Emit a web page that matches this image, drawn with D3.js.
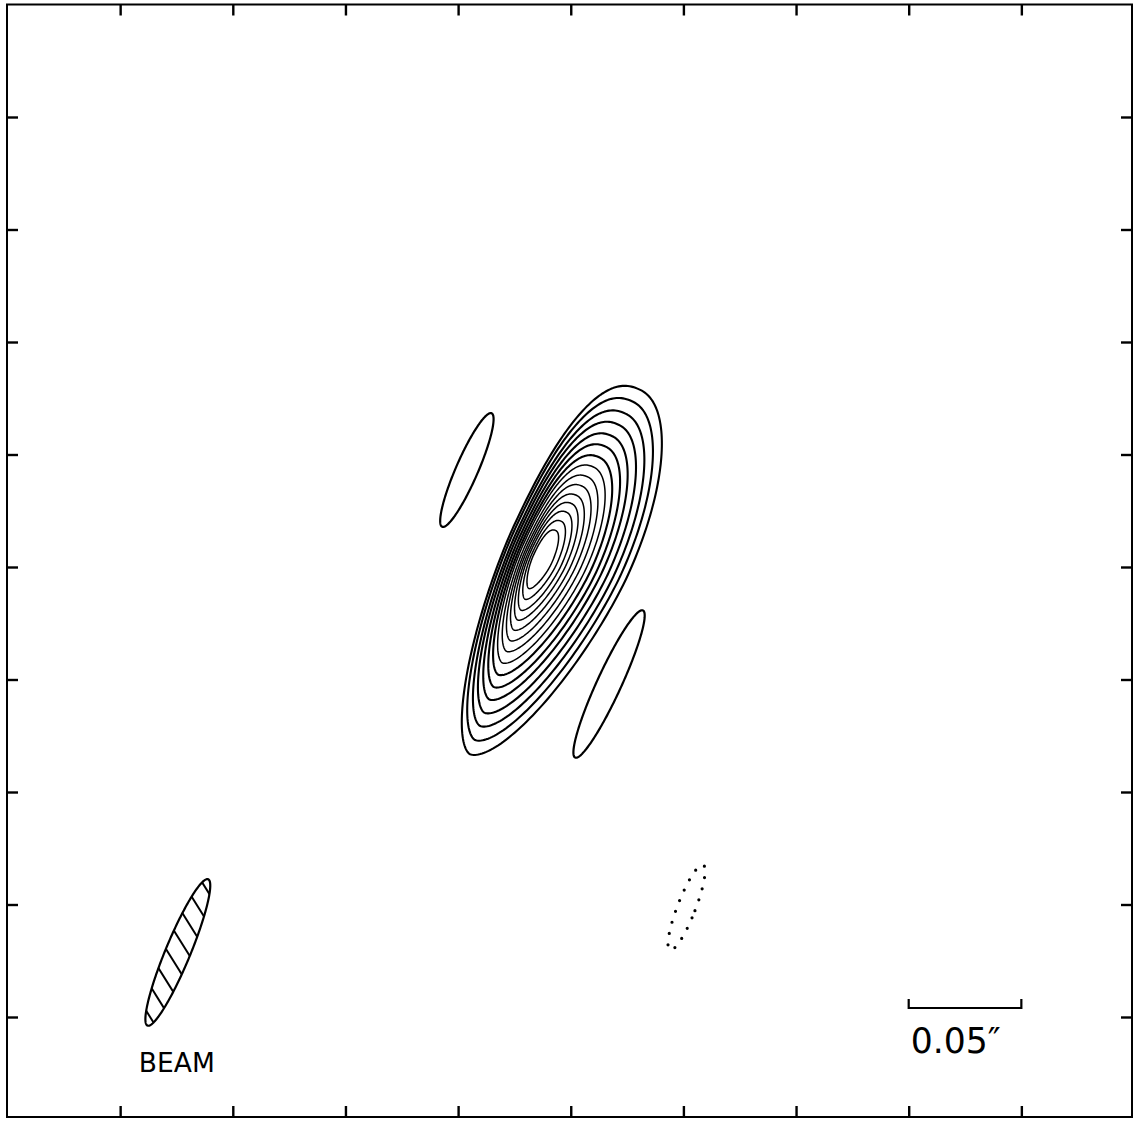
<!DOCTYPE html>
<html>
<head>
<meta charset="utf-8">
<script src="https://cdn.jsdelivr.net/npm/d3@7"></script>
<style>
  html, body { margin: 0; padding: 0; background: #fff; }
  svg { display: block; }
</style>
</head>
<body>
<script>
// ---- Map data -------------------------------------------------------------
// Offsets are in milliarcseconds (mas) from the map centre, +y is up.

// Axis tick positions (arcsec)
const tickValues = [-0.2, -0.15, -0.1, -0.05, 0, 0.05, 0.1, 0.15, 0.2];

// Main source: contour levels (% of peak). Each contour is described by its
// centre and its extent along the source axis (top / bottom) and across it
// (left / right).
const sourceAxisAngle = 25; // degrees, top of the axis tilted toward +x
const contourLevels  = [5, 10, 15, 20, 25, 30, 35, 40, 45, 50, 55, 60, 65, 70, 75];
const contourCenterX = [-2.4, -3.3, -4.1, -5.0, -5.8, -6.5, -7.3, -8.0, -8.7, -9.4, -10.1, -10.7, -11.3, -11.9, -12.6];
const contourCenterY = [7.4, 7.1, 6.7, 6.4, 6.1, 5.7, 5.4, 5.2, 4.9, 4.6, 4.3, 4.1, 3.8, 3.6, 3.3];
const contourTop     = [78.7, 73.2, 67.7, 62.6, 57.4, 52.6, 47.7, 43.2, 38.7, 34.5, 30.3, 26.5, 22.6, 18.4, 14.2];
const contourBottom  = [100.0, 92.7, 85.4, 78.6, 71.7, 65.2, 58.8, 52.8, 46.8, 41.2, 35.7, 30.5, 25.4, 19.8, 14.2];
const contourRight   = [29.8, 27.6, 25.5, 23.5, 21.4, 19.5, 17.6, 15.9, 14.1, 12.4, 10.8, 9.2, 7.7, 6.1, 4.4];
const contourLeft    = [25.3, 23.6, 21.8, 20.1, 18.4, 16.9, 15.3, 13.9, 12.4, 11.0, 9.7, 8.4, 7.2, 5.8, 4.4];
// flank shapes: fuller upper-left, tapering tail toward the bottom
const upperLeftExponent = 2.5, upperRightExponent = 2, lowerExponent = 1.7;

// Isolated features (sidelobes): +5 % solid, -5 % dotted
const lobeLevel = [5, 5, -5];
const lobeX     = [-46.1, 17.0, 51.4];
const lobeY     = [43.1, -52.0, -151.3];
const lobeMajor = [27.5, 36.0, 20.3];
const lobeMinor = [4.9, 5.4, 4.0];
const lobeAngle = [23.5, 24.7, 21.2];

// Restoring beam
const beamCenter = [-174.4, -171.3];
const beamMajor = 35.2;
const beamMinor = 5.5;
const beamAngle = 22.5;
const beamHatchOffsets = [-31.5, -22.5, -13.5, -4.5, 4.5, 13.5, 22.5, 31.5];
const beamHatchAngle = 58; // degrees below horizontal

// Scale bar (arcsec)
const scaleBarFrom = 0.15, scaleBarTo = 0.2, scaleBarY = -0.196;
const scaleBarLabel = "0.05\u2033";

// ---- Layout ---------------------------------------------------------------
const W = 1133, H = 1121;
const frame = { left: 7, right: 1132, top: 4.5, bottom: 1117 };

const x = d3.scaleLinear().domain([-0.25, 0.25]).range([7.5, 1134]);
const y = d3.scaleLinear().domain([-0.2, 0.2]).range([1017, 117]);

const svg = d3.select("body").append("svg")
  .attr("width", W).attr("height", H)
  .attr("viewBox", `0 0 ${W} ${H}`);

svg.append("rect").attr("width", W).attr("height", H).attr("fill", "#fff");

// mas offsets -> screen
const toScreen = (mx, my) => [x(mx / 1000), y(my / 1000)];
const rad = d => d * Math.PI / 180;

// point in a rotated frame: u along the tilted axis, v across it
function rotated(cx, cy, u, v, angleDeg) {
  const a = rad(angleDeg);
  return toScreen(cx + u * Math.sin(a) + v * Math.cos(a),
                  cy + u * Math.cos(a) - v * Math.sin(a));
}

const line = d3.line().curve(d3.curveLinearClosed);
const N = 240;

// ---- Frame & ticks ---------------------------------------------------------
svg.append("rect")
  .attr("x", frame.left).attr("y", frame.top)
  .attr("width", frame.right - frame.left)
  .attr("height", frame.bottom - frame.top)
  .attr("fill", "none").attr("stroke", "#000").attr("stroke-width", 2);

const tickLen = 11;
function styleAxis(g) {
  g.select(".domain").remove();
  g.selectAll(".tick line").attr("stroke", "#000").attr("stroke-width", 2.4);
  g.selectAll(".tick text").remove();
}
svg.append("g").attr("transform", `translate(0,${frame.top})`)
  .call(d3.axisTop(x).tickValues(tickValues).tickSize(-tickLen).tickFormat(""))
  .call(styleAxis);
svg.append("g").attr("transform", `translate(0,${frame.bottom})`)
  .call(d3.axisBottom(x).tickValues(tickValues).tickSize(-tickLen).tickFormat(""))
  .call(styleAxis);
svg.append("g").attr("transform", `translate(${frame.left},0)`)
  .call(d3.axisLeft(y).tickValues(tickValues).tickSize(-tickLen).tickFormat(""))
  .call(styleAxis);
svg.append("g").attr("transform", `translate(${frame.right},0)`)
  .call(d3.axisRight(y).tickValues(tickValues).tickSize(-tickLen).tickFormat(""))
  .call(styleAxis);

// ---- Main source contours --------------------------------------------------
// Each quadrant is a quarter superellipse with its own semi-axes.
function sourceContour(i) {
  const pts = [];
  for (let k = 0; k < N; k++) {
    const t = 2 * Math.PI * k / N;
    const s = Math.sin(t), c = Math.cos(t);
    const n = s < 0 ? lowerExponent : (c < 0 ? upperLeftExponent : upperRightExponent);
    const ps = Math.sign(s) * Math.pow(Math.abs(s), 2 / n);
    const pc = Math.sign(c) * Math.pow(Math.abs(c), 2 / n);
    const u = ps * (s >= 0 ? contourTop[i] : contourBottom[i]);
    const v = pc * (c >= 0 ? contourRight[i] : contourLeft[i]);
    pts.push(rotated(contourCenterX[i], contourCenterY[i], u, v, sourceAxisAngle));
  }
  return line(pts);
}

svg.append("g").attr("class", "contours")
  .selectAll("path")
  .data(contourLevels)
  .join("path")
  .attr("d", (d, i) => sourceContour(i))
  .attr("fill", "none")
  .attr("stroke", "#000")
  .attr("stroke-width", (d, i) => i < 7 ? 2.1 : 1.5)
  .attr("stroke-linejoin", "round");

// ---- Sidelobes -------------------------------------------------------------
function ellipsePath(cx, cy, a, b, ang) {
  const pts = [];
  for (let k = 0; k < N; k++) {
    const t = 2 * Math.PI * k / N;
    pts.push(rotated(cx, cy, a * Math.sin(t), b * Math.cos(t), ang));
  }
  return line(pts);
}

svg.append("g").attr("class", "lobes")
  .selectAll("path")
  .data(lobeLevel)
  .join("path")
  .attr("d", (d, i) => ellipsePath(lobeX[i], lobeY[i], lobeMajor[i], lobeMinor[i], lobeAngle[i]))
  .attr("fill", "none")
  .attr("stroke", "#000")
  .attr("stroke-width", d => d < 0 ? 3.2 : 2.2)
  .attr("stroke-linecap", "round")
  .attr("stroke-dasharray", d => d < 0 ? "0 11.5" : null);

// ---- Beam ------------------------------------------------------------------
const beamD = ellipsePath(beamCenter[0], beamCenter[1], beamMajor, beamMinor, beamAngle);
svg.append("clipPath").attr("id", "beam-clip").append("path").attr("d", beamD);

const hatchG = svg.append("g").attr("clip-path", "url(#beam-clip)");
const hDir = [Math.cos(rad(beamHatchAngle)), Math.sin(rad(beamHatchAngle))]; // screen
hatchG.selectAll("line")
  .data(beamHatchOffsets)
  .join("line")
  .each(function (off) {
    const [px, py] = rotated(beamCenter[0], beamCenter[1], off, 0, beamAngle);
    d3.select(this)
      .attr("x1", px - hDir[0] * 60).attr("y1", py - hDir[1] * 60)
      .attr("x2", px + hDir[0] * 60).attr("y2", py + hDir[1] * 60);
  })
  .attr("stroke", "#000").attr("stroke-width", 2);

svg.append("path").attr("d", beamD)
  .attr("fill", "none").attr("stroke", "#000").attr("stroke-width", 2.2);

const [beamLabelX] = toScreen(beamCenter[0], 0);
svg.append("text")
  .attr("x", beamLabelX - 39).attr("y", 1072)
  .attr("font-family", "DejaVu Sans, sans-serif")
  .attr("font-size", 27)
  .attr("textLength", 76).attr("lengthAdjust", "spacingAndGlyphs")
  .attr("fill", "#000")
  .text("BEAM");

// ---- Scale bar -------------------------------------------------------------
const sbY = y(scaleBarY), sbX0 = x(scaleBarFrom), sbX1 = x(scaleBarTo);
svg.append("path")
  .attr("d", `M${sbX0},${sbY - 9}V${sbY}H${sbX1}V${sbY - 9}`)
  .attr("fill", "none").attr("stroke", "#000").attr("stroke-width", 2.2);

svg.append("text")
  .attr("x", sbX0 + 2).attr("y", sbY + 45)
  .attr("font-family", "DejaVu Sans, sans-serif")
  .attr("font-size", 35)
  .attr("textLength", 90).attr("lengthAdjust", "spacingAndGlyphs")
  .attr("fill", "#000")
  .text(scaleBarLabel);
</script>
</body>
</html>
